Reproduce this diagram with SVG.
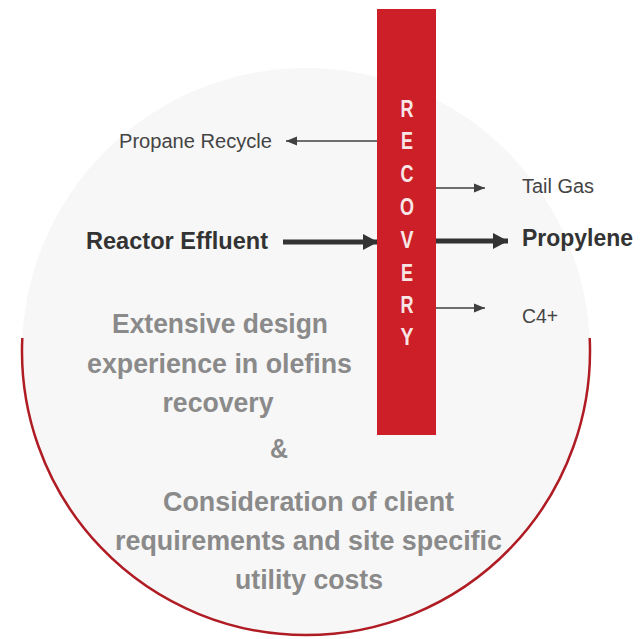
<svg xmlns="http://www.w3.org/2000/svg" width="644" height="639" viewBox="0 0 644 639">
  <style>
    .lbl { font-family: "Liberation Sans", Arial, sans-serif; fill: #444; font-size: 20px; }
    .blbl { font-family: "Liberation Sans", Arial, sans-serif; fill: #333; font-size: 23px; font-weight: bold; }
    .gray { font-family: "Liberation Sans", Arial, sans-serif; fill: #8a8a8a; font-size: 27px; font-weight: bold; text-anchor: middle; }
    .rec { font-family: "Liberation Sans", Arial, sans-serif; fill: #f8e6e6; font-size: 23px; font-weight: bold; text-anchor: middle; }
    .thin { stroke: #404040; stroke-width: 1.5; fill: none; }
    .thick { stroke: #333; stroke-width: 5; fill: none; }
  </style>
  <defs>
    <marker id="hThin" markerUnits="userSpaceOnUse" markerWidth="12" markerHeight="10" refX="11" refY="5" orient="auto">
      <path d="M0,0.5 L11,5 L0,9.5 Z" fill="#404040"/>
    </marker>
    <marker id="hThick" markerUnits="userSpaceOnUse" markerWidth="16" markerHeight="18" refX="15" refY="9" orient="auto">
      <path d="M0,1 L15,9 L0,17 Z" fill="#333"/>
    </marker>
  </defs>
  <rect width="644" height="639" fill="#ffffff"/>
  <g id="circle">
    <circle cx="306" cy="352" r="284" fill="#f7f7f7"/>
    <path d="M22.3,338 A284,284 0 1,0 589.7,338" fill="none" stroke="#b01c24" stroke-width="2.5"/>
  </g>
  <g id="connectors">
    <line class="thin" x1="378" y1="141" x2="286" y2="141" marker-end="url(#hThin)"/>
    <line class="thick" x1="283" y1="242" x2="378" y2="242" marker-end="url(#hThick)"/>
    <line class="thin" x1="436" y1="188" x2="485" y2="188" marker-end="url(#hThin)"/>
    <line class="thick" x1="436" y1="241" x2="508" y2="241" marker-end="url(#hThick)"/>
    <line class="thin" x1="436" y1="308" x2="485" y2="308" marker-end="url(#hThin)"/>
  </g>
  <g id="recovery">
    <rect x="377" y="9" width="59" height="426" fill="#cc1f27"/>
    <text class="rec" x="407" y="117" textLength="13" lengthAdjust="spacingAndGlyphs">R</text>
    <text class="rec" x="407" y="149" textLength="12" lengthAdjust="spacingAndGlyphs">E</text>
    <text class="rec" x="407" y="182" textLength="13" lengthAdjust="spacingAndGlyphs">C</text>
    <text class="rec" x="407" y="215" textLength="14" lengthAdjust="spacingAndGlyphs">O</text>
    <text class="rec" x="407" y="248" textLength="13" lengthAdjust="spacingAndGlyphs">V</text>
    <text class="rec" x="407" y="281" textLength="12" lengthAdjust="spacingAndGlyphs">E</text>
    <text class="rec" x="407" y="313" textLength="13" lengthAdjust="spacingAndGlyphs">R</text>
    <text class="rec" x="407" y="345" textLength="13" lengthAdjust="spacingAndGlyphs">Y</text>
  </g>
  <g id="propane-recycle">
    <text class="lbl" x="119" y="148" textLength="153" lengthAdjust="spacingAndGlyphs">Propane Recycle</text>
  </g>
  <g id="reactor-effluent">
    <text class="blbl" x="86" y="249" textLength="182" lengthAdjust="spacingAndGlyphs">Reactor Effluent</text>
  </g>
  <g id="tail-gas">
    <text class="lbl" x="522" y="193" textLength="72" lengthAdjust="spacingAndGlyphs">Tail Gas</text>
  </g>
  <g id="propylene">
    <text class="blbl" x="522" y="246" textLength="111" lengthAdjust="spacingAndGlyphs">Propylene</text>
  </g>
  <g id="c4plus">
    <text class="lbl" x="522" y="323" textLength="36" lengthAdjust="spacingAndGlyphs">C4+</text>
  </g>
  <g id="description">
    <text class="gray" x="220" y="333" textLength="216" lengthAdjust="spacingAndGlyphs">Extensive design</text>
    <text class="gray" x="219.5" y="373" textLength="265" lengthAdjust="spacingAndGlyphs">experience in olefins</text>
    <text class="gray" x="218" y="412" textLength="111" lengthAdjust="spacingAndGlyphs">recovery</text>
    <text class="gray" x="279" y="458" textLength="18" lengthAdjust="spacingAndGlyphs">&amp;</text>
    <text class="gray" x="308.5" y="511" textLength="291" lengthAdjust="spacingAndGlyphs">Consideration of client</text>
    <text class="gray" x="308.5" y="550" textLength="387" lengthAdjust="spacingAndGlyphs">requirements and site specific</text>
    <text class="gray" x="309" y="589" textLength="148" lengthAdjust="spacingAndGlyphs">utility costs</text>
  </g>
</svg>
